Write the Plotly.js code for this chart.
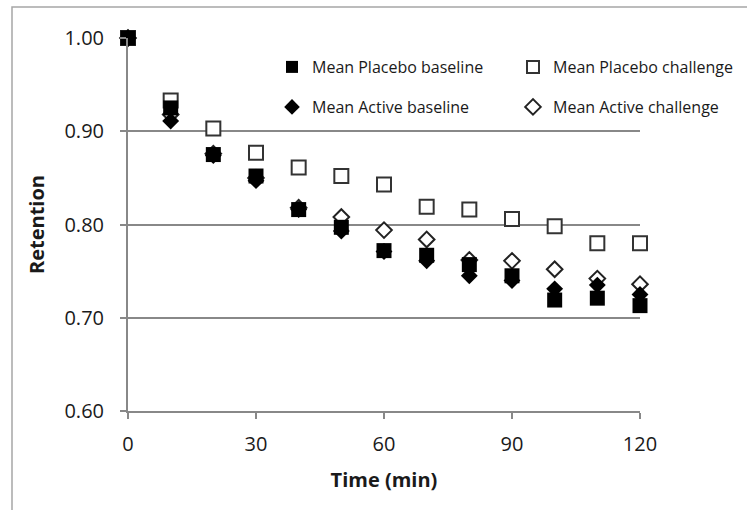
<!DOCTYPE html>
<html>
<head>
<meta charset="utf-8">
<script src="https://cdn.plot.ly/plotly-3.0.1.min.js"></script>
<style>html,body{margin:0;padding:0;background:#fff;}#chart{width:747px;height:510px;}</style>
</head>
<body>
<div id="chart"></div>
<script>
const time = [0, 10, 20, 30, 40, 50, 60, 70, 80, 90, 100, 110, 120];
const placeboBaseline  = [1.00, 0.925, 0.875, 0.852, 0.816, 0.797, 0.772, 0.767, 0.757, 0.745, 0.719, 0.721, 0.713];
const placeboChallenge = [1.00, 0.933, 0.903, 0.877, 0.861, 0.852, 0.843, 0.819, 0.816, 0.806, 0.798, 0.780, 0.780];
const activeBaseline   = [1.00, 0.911, 0.874, 0.847, 0.816, 0.793, 0.771, 0.761, 0.745, 0.740, 0.731, 0.735, 0.725];
const activeChallenge  = [1.00, 0.918, 0.876, 0.850, 0.818, 0.808, 0.794, 0.784, 0.762, 0.761, 0.752, 0.742, 0.736];
const seriesNames = ["Mean Placebo baseline", "Mean Placebo challenge", "Mean Active baseline", "Mean Active challenge"];
const xTicks = [0, 30, 60, 90, 120];
const yTicks = [0.60, 0.70, 0.80, 0.90, 1.00];

const fontFam = "Open Sans, Noto Sans, sans-serif";
const dark = "#1a1a1a";

// open markers drawn first, filled markers on top (as in the reference)
const traces = [
  {x: time, y: placeboChallenge, name: seriesNames[1], type: "scatter", mode: "markers", cliponaxis: false,
   marker: {symbol: "square", size: 14, color: "#fff", line: {width: 2, color: "#333"}}, legend: "legend2"},
  {x: time, y: activeChallenge, name: seriesNames[3], type: "scatter", mode: "markers", cliponaxis: false,
   marker: {symbol: "diamond", size: 12, color: "#fff", line: {width: 2, color: "#222"}}, legend: "legend4"},
  {x: time, y: placeboBaseline, name: seriesNames[0], type: "scatter", mode: "markers", cliponaxis: false,
   marker: {symbol: "square", size: 15, color: "#000", line: {width: 0}}, legend: "legend"},
  {x: time, y: activeBaseline, name: seriesNames[2], type: "scatter", mode: "markers", cliponaxis: false,
   marker: {symbol: "diamond", size: 13, color: "#000", line: {width: 0}}, legend: "legend3"}
];

const W = 747, H = 510, L = 128, R = 107, T = 38, B = 99;
const pw = W - L - R, ph = H - T - B;
const px = v => (v - L) / pw;
const py = v => (H - B - v) / ph;

const legendCommon = {
  orientation: "h", xanchor: "left", yanchor: "middle", xref: "paper", yref: "paper",
  font: {family: fontFam, size: 16, color: "#1a1a1a"}, bgcolor: "rgba(0,0,0,0)",
  itemsizing: "constant", itemwidth: 30, traceorder: "normal"
};
const leg = (x, y) => Object.assign({}, legendCommon, {x: px(x), y: py(y)});

const layout = {
  width: W, height: H,
  margin: {l: L, r: R, t: T, b: B, pad: 0, autoexpand: false},
  paper_bgcolor: "#fff", plot_bgcolor: "#fff",
  showlegend: true,
  legend: leg(272, 67),
  legend2: leg(513, 67),
  legend3: leg(272, 107),
  legend4: leg(513, 107),
  xaxis: {
    range: [0, 120], tickvals: xTicks, ticktext: xTicks.map(String),
    showgrid: false, zeroline: false, showline: true, linecolor: "#888", linewidth: 2,
    ticks: "outside", ticklen: 6, tickwidth: 2, tickcolor: "#888", ticklabelstandoff: 8,
    tickfont: {family: fontFam, size: 20, color: dark},
    title: {text: "<b>Time (min)</b>", font: {family: fontFam, size: 20, color: dark}, standoff: 17}
  },
  yaxis: {
    range: [0.6, 1.0], tickvals: yTicks, ticktext: yTicks.map(v => v.toFixed(2)),
    showgrid: true, gridcolor: "#888", gridwidth: 2,
    zeroline: false, showline: true, linecolor: "#888", linewidth: 2,
    ticks: "outside", ticklen: 6, tickwidth: 2, tickcolor: "#888", ticklabelstandoff: 12,
    tickfont: {family: fontFam, size: 20, color: dark},
    title: {text: "<b>Retention</b>", font: {family: fontFam, size: 20, color: dark}, standoff: 14}
  },
  shapes: [
    {type: "rect", xref: "paper", yref: "paper", x0: px(12), x1: px(760), y0: py(520), y1: py(7),
     line: {color: "#a6a6a6", width: 1.5}, fillcolor: "rgba(0,0,0,0)", layer: "below"}
  ]
};

Plotly.newPlot("chart", traces, layout, {displayModeBar: false, staticPlot: true});
</script>
</body>
</html>
